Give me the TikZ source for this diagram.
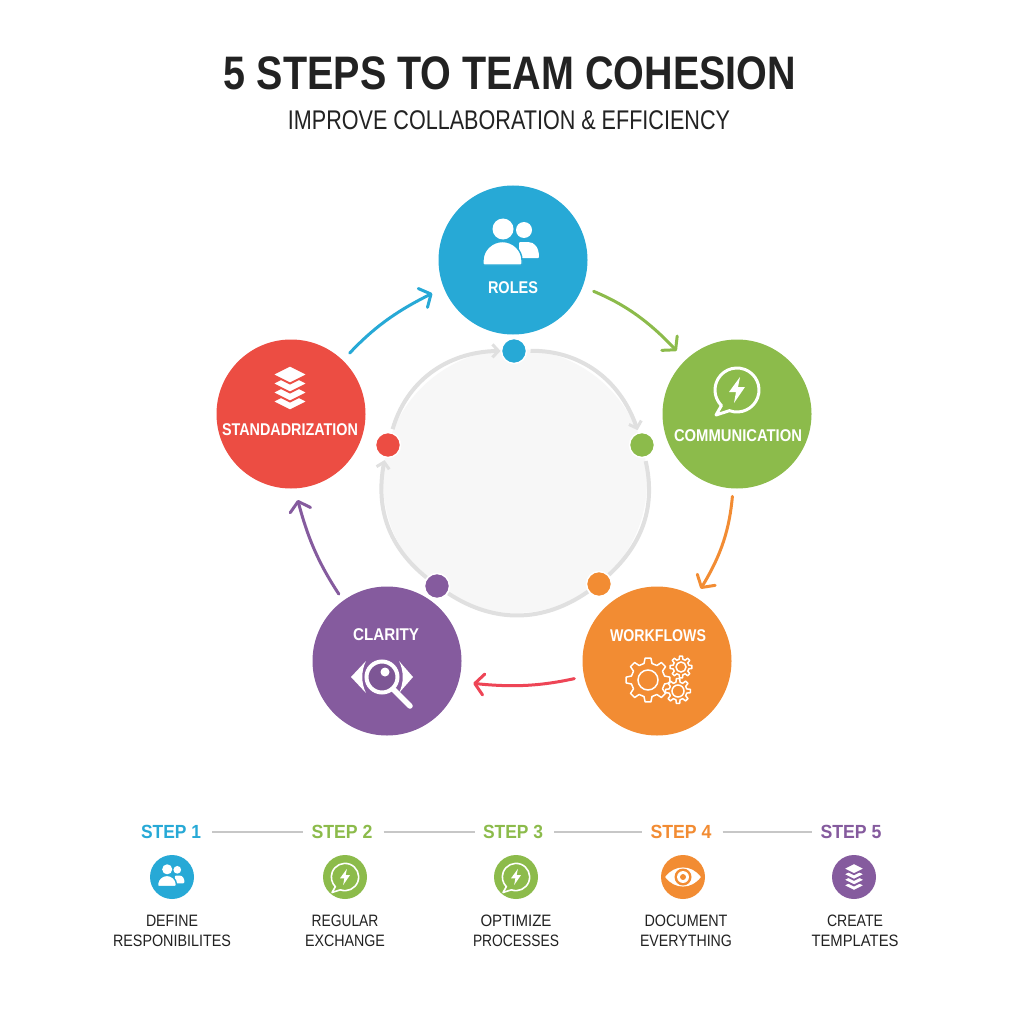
\documentclass[tikz,border=0pt]{standalone}
\usepackage{graphicx}
\usepackage{fontspec}
\setmainfont{Liberation Sans}
\usetikzlibrary{arrows.meta,bending}
\definecolor{cblue}{HTML}{27A9D6}
\definecolor{cgreen}{HTML}{8CBB4B}
\definecolor{corange}{HTML}{F28C33}
\definecolor{cpurple}{HTML}{855B9E}
\definecolor{cred}{HTML}{EC4D43}
\definecolor{ink}{HTML}{222222}
\newcommand\tw[2]{\resizebox{#1pt}{\height}{#2}}
\newcommand\gearshape[6]{% x y teeth ri ro hole
  \begin{scope}[shift={(#1,#2)}]
    \pgfmathsetmacro\gstep{360/#3}
    \pgfmathsetmacro\gda{\gstep*0.30}
    \pgfmathsetmacro\gdb{\gstep*0.17}
    \draw[line join=round] ({-\gda}:#4)
      \foreach \i [evaluate=\i as \a using \i*\gstep] in {0,...,\numexpr#3-1\relax} {
        -- ({\a-\gda}:#4) -- ({\a-\gdb}:#5) -- ({\a+\gdb}:#5) -- ({\a+\gda}:#4)
      } -- cycle;
    \draw (0,0) circle[radius=#6];
  \end{scope}}
\tikzset{
  x=1pt,y=1pt,
  stepcirc/.style={circle,minimum size=149pt,inner sep=0pt,outer sep=0pt,text=white},
  dotnode/.style={circle,minimum size=25pt,inner sep=0pt,outer sep=1pt,draw=white,line width=1.5pt},
  minicirc/.style={circle,minimum size=44pt,inner sep=0pt,outer sep=0pt},
  flow/.style={line width=3pt,line cap=round,-{Straight Barb[length=9pt,width=21pt,line width=3pt,round]}},
  ringarc/.style={draw=black!12,line width=4pt},
  ringtip/.style={ringarc,-{Straight Barb[length=6pt,width=13pt,line width=3pt]}},
  circlabel/.style={font=\bfseries\fontsize{17}{20}\selectfont,text=white,inner sep=0pt},
  steplabel/.style={font=\bfseries\fontsize{19}{22}\selectfont,inner sep=0pt},
  desclabel/.style={font=\fontsize{16.5}{20.5}\selectfont,text=ink,align=center,inner sep=0pt},
  stepline/.style={draw=black!22,line width=2pt,shorten >=8pt,shorten <=11pt},
  pics/people/.style={code={
    \fill[white] (11,15) circle[radius=8];
    \fill[white,rounded corners=1pt] (6,-13) -- (6,3) -- (14,3) .. controls (22,3) and (26,-3) .. (26,-13) -- cycle;
    \fill[white] (-10,16) circle[radius=10.5];
    \draw[#1,fill=white,line width=1.4pt,rounded corners=1pt] (-30,-20) -- (-30,-16) arc[start angle=180,end angle=0,radius=19.5] -- (9,-20) -- cycle;
  }},
  pics/layers/.style={code={
    \foreach \yy in {-13.5,-4.5,4.5,13.5}
      \draw[#1,fill=white,line width=1.8pt,line join=miter] (-18,\yy) -- (0,\yy+9) -- (18,\yy) -- (0,\yy-9) -- cycle;
  }},
  pics/bubble/.style={code={
    \draw[white,line join=round] (250:22) arc[start angle=250,end angle=585,radius=22] -- (-21,-25) -- cycle;
    \fill[white] (3,13) -- (-8,-2) -- (-1,-2) -- (-3,-13) -- (8,3) -- (1,3) -- cycle;
  }},
  pics/gears/.style={code={
    \gearshape{-9}{-19}{8}{17}{22}{10}
    \gearshape{24}{-6}{8}{8}{11}{5}
    \gearshape{21}{-30}{8}{9}{12.5}{6}
  }},
  pics/lens/.style={code={
    \fill[white] (-31,0) -- (-16,16) .. controls (-21,6) and (-21,-6) .. (-16,-16) -- cycle;
    \fill[white] (31,0) -- (17,16) .. controls (22,6) and (22,-6) .. (17,-16) -- cycle;
    \draw[white,fill=black!6!cpurple,line width=4pt] (0,0) circle[radius=15.5];
    \fill[white] (3,5) circle[radius=4.5];
    \draw[white,line width=5.5pt,line cap=round] (11,-12) -- (28,-29);
  }},
  pics/eye/.style={code={
    \fill[white] (-21,0) .. controls (-10,15) and (10,15) .. (21,0) .. controls (10,-15) and (-10,-15) .. (-21,0) -- cycle;
    \fill[#1] (0,0) circle[radius=10];
    \fill[white] (0,0) circle[radius=7];
    \fill[#1] (0,0) circle[radius=3.5];
  }},
}
\begin{document}
\begin{tikzpicture}
\useasboundingbox (0,0) rectangle (1024,-1024);
\fill[white] (0,0) rectangle (1024,-1024);

% titles
\node[font=\bfseries\fontsize{47}{50}\selectfont,text=ink,inner sep=0pt] (title) at (510,-73) {\tw{572}{5 STEPS TO TEAM COHESION}};
\node[font=\fontsize{27}{30}\selectfont,text=ink,inner sep=0pt] (subtitle) at (509,-120) {\tw{442}{IMPROVE COLLABORATION \& EFFICIENCY}};

% inner hub
\node[circle,minimum size=264pt,inner sep=0pt,fill=black!3] (hub) at (515,-481) {};

% big circles
\node[stepcirc,fill=cblue] (roles) at (513,-260) {};
\node[stepcirc,fill=cgreen] (comm) at (737,-414) {};
\node[stepcirc,fill=corange] (wf) at (657,-661) {};
\node[stepcirc,fill=cpurple] (clar) at (387,-661) {};
\node[stepcirc,fill=cred] (std) at (291,-414) {};

\node[circlabel] (lroles) at (513,-288) {\tw{50}{ROLES}};
\node[circlabel] (lcomm) at (738,-436) {\tw{128}{COMMUNICATION}};
\node[circlabel] (lwf) at (658,-636) {\tw{96}{WORKFLOWS}};
\node[circlabel] (lclar) at (386,-635) {\tw{66}{CLARITY}};
\node[circlabel] (lstd) at (290,-430) {\tw{136}{STANDADRIZATION}};

% icons in big circles
\pic at (513,-245) {people=cblue};
\pic[line width=3pt] at (737,-390) {bubble};
\pic[line width=1.5pt,draw=white] at (657,-661) {gears};
\pic at (382,-677) {lens};
\pic at (290,-388) {layers=cred};

% small dots
\node[dotnode,fill=cblue] (d1) at (514,-351) {};
\node[dotnode,fill=cgreen] (d2) at (642,-445) {};
\node[dotnode,fill=corange] (d3) at (599,-584) {};
\node[dotnode,fill=cpurple] (d4) at (437,-586) {};
\node[dotnode,fill=cred] (d5) at (388,-445) {};

% inner ring
\draw[ringtip,shorten <=3pt] (d5) to[bend left=37] (d1);
\draw[ringtip,shorten <=3pt,shorten >=2pt] (d1) to[bend left=37] (d2);
\draw[ringarc,shorten <=3pt] (d2) to[bend left=30] (d3);
\draw[ringarc] (d3) to[bend left=34] (d4);
\draw[ringtip,shorten >=2pt] (d4) to[bend left=32] (d5);

% outer arrows
\draw[flow,cblue,shorten <=10pt,shorten >=13pt] (std.46) to[bend left=11] (roles.202);
\draw[flow,cgreen,shorten <=12pt,shorten >=13pt] (roles.-21) to[bend left=13] (comm.134);
\draw[flow,corange,shorten <=8pt,shorten >=10pt] (comm.-93) to[bend left=14] (wf.59);
\draw[flow,cred!90!magenta,shorten <=10pt,shorten >=15pt] (wf.192) to[bend left=10] (clar.-16);
\draw[flow,cpurple,shorten <=8pt,shorten >=12pt] (clar.126) to[bend left=10] (std.-87);

% bottom row
\node[steplabel,text=cblue] (s1) at (171,-832) {\tw{60}{STEP 1}};
\node[steplabel,text=cgreen] (s2) at (342,-832) {\tw{61}{STEP 2}};
\node[steplabel,text=cgreen] (s3) at (513,-832) {\tw{60}{STEP 3}};
\node[steplabel,text=corange] (s4) at (681,-832) {\tw{61}{STEP 4}};
\node[steplabel,text=cpurple] (s5) at (851,-832) {\tw{61}{STEP 5}};
\draw[stepline] (s1) -- (s2);
\draw[stepline] (s2) -- (s3);
\draw[stepline] (s3) -- (s4);
\draw[stepline] (s4) -- (s5);

\node[minicirc,fill=cblue] (m1) at (172,-877) {};
\node[minicirc,fill=cgreen] (m2) at (345,-877) {};
\node[minicirc,fill=cgreen] (m3) at (516,-877) {};
\node[minicirc,fill=corange] (m4) at (683,-877) {};
\node[minicirc,fill=cpurple] (m5) at (854,-877) {};

\pic[scale=.48] at (172,-877) {people=cblue};
\pic[scale=.62,line width=1.6pt] at (345,-877) {bubble};
\pic[scale=.62,line width=1.6pt] at (516,-877) {bubble};
\pic[scale=.85] at (683,-877) {eye=corange};
\pic[scale=.62] at (854,-877) {layers=cpurple};

\node[desclabel] (t1) at (172,-931) {\tw{52}{DEFINE}\\\tw{118}{RESPONIBILITES}};
\node[desclabel] (t2) at (345,-931) {\tw{67}{REGULAR}\\\tw{80}{EXCHANGE}};
\node[desclabel] (t3) at (516,-931) {\tw{71}{OPTIMIZE}\\\tw{86}{PROCESSES}};
\node[desclabel] (t4) at (686,-931) {\tw{83}{DOCUMENT}\\\tw{92}{EVERYTHING}};
\node[desclabel] (t5) at (855,-931) {\tw{56}{CREATE}\\\tw{87}{TEMPLATES}};
\end{tikzpicture}
\end{document}
